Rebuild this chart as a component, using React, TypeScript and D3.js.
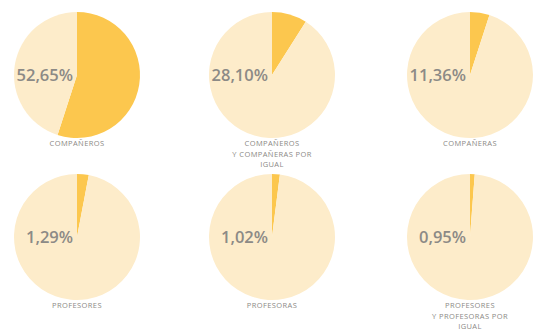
import React from "react";
import * as d3 from "d3";

const categories: string[][] = [
  ["COMPAÑEROS"],
  ["COMPAÑEROS", "Y COMPAÑERAS POR", "IGUAL"],
  ["COMPAÑERAS"],
  ["PROFESORES"],
  ["PROFESORAS"],
  ["PROFESORES", "Y PROFESORAS POR", "IGUAL"],
];
const percentLabels = ["52,65%", "28,10%", "11,36%", "1,29%", "1,02%", "0,95%"];
// slice shares as drawn in the picture
const sliceShares = [0.55, 0.09, 0.05, 0.03, 0.02, 0.012];

const W = 535;
const H = 333;
const colX = [77, 272, 470];
const rowY = [75, 237];
const R = 63;
const DARK = "#fcc74e";
const LIGHT = "#fdecca";
const TEXT = "#8c8a86";

export default function App() {
  const pie = d3.pie<number>().sort(null).value((d) => d);
  const arc = d3.arc<d3.PieArcDatum<number>>().innerRadius(0).outerRadius(R);
  return (
    <svg
      width={W}
      height={H}
      style={{ position: "absolute", left: 0, top: 0, background: "#fff" }}
      fontFamily="'Open Sans', sans-serif"
    >
      {sliceShares.map((s, i) => {
        const cx = colX[i % 3];
        const cy = rowY[Math.floor(i / 3)];
        const arcs = pie([s, 1 - s]);
        const lines = categories[i];
        return (
          <g key={i} transform={`translate(${cx},${cy})`}>
            {arcs.map((a, j) => (
              <path key={j} d={arc(a) || ""} fill={j === 0 ? DARK : LIGHT} />
            ))}
            <text
              x={-4}
              y={6}
              textAnchor="end"
              fontSize={16.5}
              fontWeight={600}
              fill={TEXT}
            >
              {percentLabels[i]}
            </text>
            {lines.map((l, k) => (
              <text
                key={k}
                x={0}
                y={R + 8 + k * 10.5}
                textAnchor="middle"
                fontSize={7.5}
                letterSpacing={0.4}
                fill={TEXT}
              >
                {l}
              </text>
            ))}
          </g>
        );
      })}
    </svg>
  );
}
